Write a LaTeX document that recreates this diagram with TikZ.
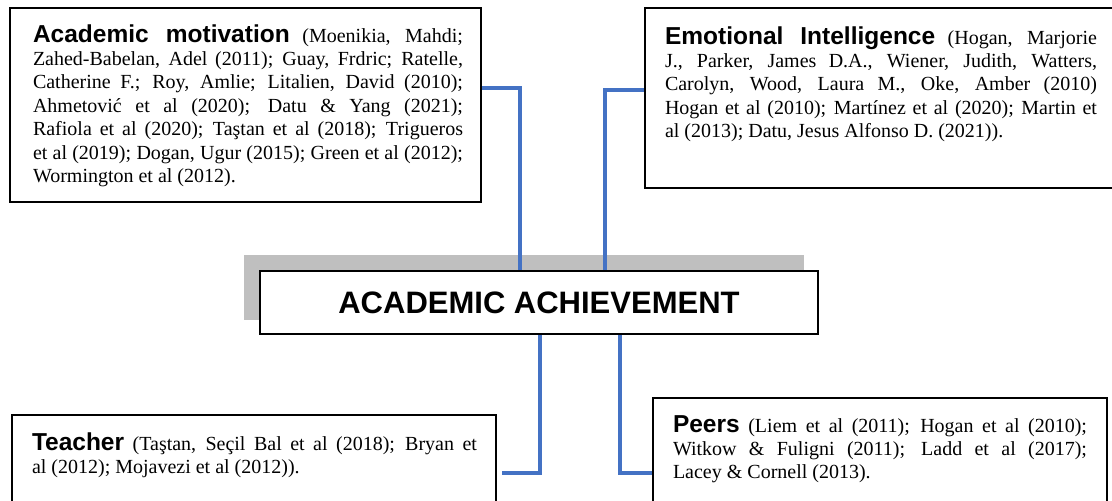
\documentclass[tikz,border=0pt]{standalone}
\usepackage{fontspec}
\setmainfont{Liberation Serif}
\newfontfamily\headfont{Liberation Sans}
\usetikzlibrary{calc}
\definecolor{connblue}{HTML}{4472C4}
\definecolor{shadowgray}{HTML}{BFBFBF}
\newcommand\hd{\headfont\bfseries\fontsize{24.5}{29}\selectfont}
\newcommand\jl[1]{\hbox to \hsize{#1}}
\newcommand\lastl[1]{\hbox{#1}}
\newcommand\txtlines[2]{\vtop{\hsize=#1\fontsize{20}{23.4}\selectfont #2}}
\pgfdeclarelayer{bg}
\pgfsetlayers{bg,main}
\tikzset{
  box/.style={draw=black, line width=2pt, fill=white, inner sep=0pt, outer sep=0pt, anchor=north west},
  conn/.style={draw=connblue, line width=3.2pt},
  txt/.style={inner sep=0pt, outer sep=0pt, anchor=base west, text=black}
}
\begin{document}
\begin{tikzpicture}[x=1pt,y=-1pt]
\useasboundingbox (0,0) rectangle (1112,501);
% boxes
\node[box, minimum width=471pt, minimum height=194pt] (mot) at (10,8) {};
\node[box, minimum width=470pt, minimum height=180pt] (emo) at (645,8) {};
\node[box, minimum width=484pt, minimum height=100pt] (tea) at (12,415) {};
\node[box, minimum width=454pt, minimum height=115pt] (pee) at (653,398) {};
\node[box, minimum width=558pt, minimum height=63pt,
      font=\headfont\bfseries\fontsize{31}{36}\selectfont] (ach) at (260,271) {ACADEMIC ACHIEVEMENT};
\begin{pgfonlayer}{bg}
  \node[fill=shadowgray, inner sep=0pt, outer sep=0pt, anchor=north west,
        minimum width=560pt, minimum height=65pt] (sh) at (244,255) {};
  \draw[conn] ([yshift=-80pt]mot.north east) -| ([xshift=260pt]ach.north west);
  \draw[conn] ([yshift=-82pt]emo.north west) -| ([xshift=345pt]ach.north west);
  \draw[conn] ([xshift=280pt]ach.south west) |- ([xshift=6pt,yshift=-58pt]tea.north east);
  \draw[conn] ([xshift=360pt]ach.south west) |- ([yshift=-75pt]pee.north west);
\end{pgfonlayer}
% texts
\node[txt] (motT) at (33,42) {\txtlines{430pt}{%
\jl{{\hd Academic motivation} (Moenikia, Mahdi;}
\jl{Zahed-Babelan, Adel (2011); Guay, Frdric; Ratelle,}
\jl{Catherine F.; Roy, Amlie; Litalien, David (2010);}
\jl{Ahmetović et al (2020); Datu \& Yang (2021);}
\jl{Rafiola et al (2020); Taştan et al (2018); Trigueros}
\jl{et al (2019); Dogan, Ugur (2015); Green et al (2012);}
\lastl{Wormington et al (2012).}}};
\node[txt] (emoT) at (665,44) {\txtlines{432pt}{%
\jl{{\hd Emotional Intelligence} (Hogan, Marjorie}
\jl{J., Parker, James D.A., Wiener, Judith, Watters,}
\jl{Carolyn, Wood, Laura M., Oke, Amber (2010)}
\jl{Hogan et al (2010); Martínez et al (2020); Martin et}
\lastl{al (2013); Datu, Jesus Alfonso D. (2021)).}}};
\node[txt] (teaT) at (32,450) {\txtlines{445pt}{%
\jl{{\hd Teacher} (Taştan, Seçil Bal et al (2018); Bryan et}
\lastl{al (2012); Mojavezi et al (2012)).}}};
\node[txt] (peeT) at (673,432) {\txtlines{414pt}{%
\jl{{\hd Peers} (Liem et al (2011); Hogan et al (2010);}
\jl{Witkow \& Fuligni (2011); Ladd et al (2017);}
\lastl{Lacey \& Cornell (2013).}}};
\end{tikzpicture}
\end{document}
